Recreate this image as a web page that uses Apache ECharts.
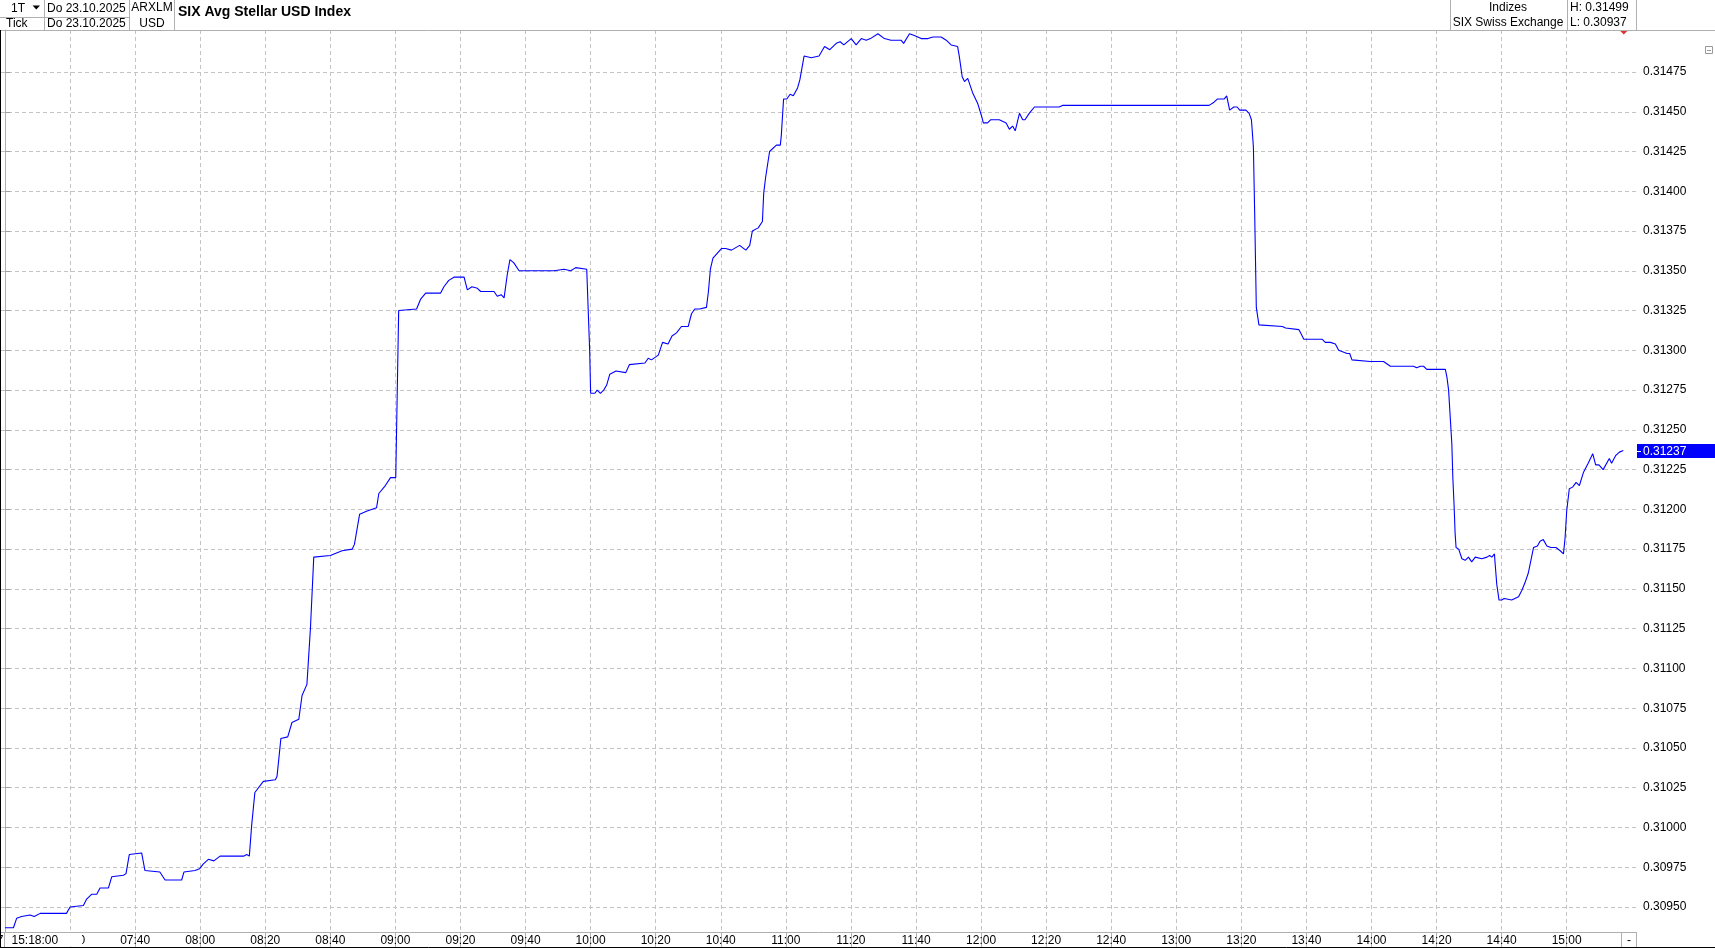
<!DOCTYPE html>
<html><head><meta charset="utf-8">
<script src="https://cdn.jsdelivr.net/npm/echarts@6/dist/echarts.min.js"></script>
<style>html,body{margin:0;padding:0;background:#fff}#c{width:1715px;height:948px}</style>
</head><body><div id="c"></div>
<script>
// ---- data (time = minutes after 07:00) ----
const tMin = [
  0,2.6,3.6,5.1,7.7,9.0,10.8,18.9,20.0,24.1,
  25.1,26.6,28.2,29.2,31.8,32.8,36.4,37.2,38.2,42.0,
  43.0,47.6,49.2,51.3,54.3,55.0,58.4,59.8,60.9,62.5,
  64.2,66.1,73.3,74.3,75.1,75.8,76.8,79.4,83.1,83.6,
  84.8,86.9,88.2,90.3,91.3,92.8,93.9,94.9,100.0,103.6,
  106.7,107.4,109.0,111.3,114.2,114.9,116.9,118.5,120.1,121.0,
  126.5,127.7,129.3,133.9,134.9,136.4,138.0,141.1,142.1,143.5,
  145.2,146.2,150.3,151.3,152.5,153.4,154.4,155.2,156.4,158.0,
  168.8,171.8,173.9,175.4,178.8,179.2,179.7,180.0,181.3,182.0,
  183.0,184.0,184.9,185.9,187.8,190.8,191.9,196.7,197.7,198.7,
  200.8,202.1,203.8,205.0,206.4,207.9,210.0,211.0,212.0,213.5,
  215.6,216.2,216.8,217.6,220.2,221.5,223.3,225.8,227.7,228.9,
  229.7,231.5,232.8,233.2,233.8,235.0,237.1,238.3,238.6,239.3,
  240.3,241.3,242.3,243.6,244.3,245.6,247.8,250.2,251.9,253.5,
  255.5,256.7,257.8,260.1,261.6,263.2,264.7,266.0,268.3,270.3,
  272.3,275.4,276.2,278.0,279.5,281.6,283.7,284.2,285.2,287.7,
  289.3,290.8,292.8,293.3,294.2,294.9,295.9,297.4,299.0,300.2,
  300.7,302.0,303.0,305.6,307.7,308.7,309.7,310.5,311.8,312.8,
  313.5,314.8,316.4,324.0,325.0,370.1,371.6,372.6,374.7,375.5,
  376.4,377.7,378.7,379.5,381.4,382.4,383.1,383.7,384.1,384.6,
  385.4,392.6,393.6,397.7,398.2,399.2,404.8,405.8,407.4,407.9,
  408.9,409.9,412.5,413.3,414.0,419.6,423.7,425.8,432.9,433.9,
  435.0,436.0,437.0,442.7,443.2,443.7,444.2,444.7,445.0,445.4,
  445.7,446.0,446.8,447.8,448.8,449.8,450.8,451.9,453.9,455.5,
  456.3,457.0,457.8,458.0,458.5,459.2,460.0,460.8,463.1,465.2,
  466.2,467.2,468.2,468.7,469.8,471.0,471.8,472.8,473.9,475.1,
  476.7,478.0,479.0,479.5,480.0,480.8,481.8,482.9,483.9,485.1,
  486.6,488.0,488.9,489.9,491.2,493.1,493.8,495.1,496.2,497.4
];
const price = [
  0.30937,0.30937,0.30943,0.30944,0.30945,0.30944,0.30946,0.30946,0.30950,0.30951,
  0.30955,0.30958,0.30958,0.30962,0.30962,0.30969,0.30970,0.30971,0.30983,0.30984,
  0.30973,0.30972,0.30967,0.30967,0.30967,0.30972,0.30973,0.30974,0.30977,0.30980,
  0.30979,0.30982,0.30982,0.30983,0.30982,0.31001,0.31022,0.31029,0.31030,0.31032,
  0.31056,0.31057,0.31066,0.31068,0.31083,0.31090,0.31126,0.31170,0.31171,0.31174,
  0.31175,0.31178,0.31197,0.31199,0.31201,0.31210,0.31215,0.31220,0.31220,0.31325,
  0.31326,0.31332,0.31336,0.31336,0.31340,0.31344,0.31346,0.31346,0.31338,0.31340,
  0.31339,0.31337,0.31337,0.31334,0.31335,0.31333,0.31348,0.31357,0.31355,0.31350,
  0.31350,0.31351,0.31350,0.31352,0.31351,0.31352,0.31300,0.31273,0.31273,0.31275,
  0.31273,0.31275,0.31278,0.31285,0.31287,0.31286,0.31291,0.31292,0.31295,0.31294,
  0.31297,0.31305,0.31304,0.31309,0.31311,0.31315,0.31315,0.31323,0.31326,0.31326,
  0.31327,0.31337,0.31351,0.31358,0.31364,0.31364,0.31363,0.31366,0.31363,0.31366,
  0.31375,0.31377,0.31381,0.31399,0.31409,0.31425,0.31429,0.31429,0.31435,0.31458,
  0.31458,0.31461,0.31460,0.31465,0.31470,0.31485,0.31484,0.31485,0.31491,0.31489,
  0.31493,0.31494,0.31492,0.31496,0.31492,0.31496,0.31495,0.31496,0.31499,0.31496,
  0.31495,0.31495,0.31493,0.31499,0.31498,0.31496,0.31496,0.31495,0.31497,0.31497,
  0.31495,0.31492,0.31491,0.31485,0.31472,0.31469,0.31471,0.31462,0.31455,0.31447,
  0.31443,0.31443,0.31445,0.31445,0.31443,0.31439,0.31441,0.31438,0.31449,0.31445,
  0.31445,0.31449,0.31453,0.31453,0.31454,0.31454,0.31456,0.31458,0.31458,0.31460,
  0.31451,0.31453,0.31453,0.31451,0.31451,0.31449,0.31445,0.31428,0.31386,0.31327,
  0.31316,0.31315,0.31314,0.31313,0.31311,0.31307,0.31307,0.31305,0.31305,0.31304,
  0.31304,0.31300,0.31298,0.31298,0.31294,0.31293,0.31293,0.31290,0.31290,0.31289,
  0.31290,0.31290,0.31288,0.31288,0.31283,0.31275,0.31258,0.31241,0.31220,0.31202,
  0.31185,0.31176,0.31175,0.31169,0.31168,0.31170,0.31167,0.31170,0.31169,0.31170,
  0.31171,0.31170,0.31172,0.31166,0.31153,0.31143,0.31143,0.31144,0.31143,0.31145,
  0.31149,0.31154,0.31160,0.31165,0.31176,0.31177,0.31180,0.31181,0.31177,0.31176,
  0.31176,0.31174,0.31172,0.31182,0.31199,0.31213,0.31214,0.31217,0.31215,0.31223,
  0.31229,0.31235,0.31228,0.31228,0.31225,0.31232,0.31229,0.31234,0.31236,0.31237
];
const xTickMinutes = [20,40,60,80,100,120,140,160,180,200,220,240,260,280,300,320,340,360,380,400,420,440,460,480];
const xTickLabels = ["07:20","07:40","08:00","08:20","08:40","09:00","09:20","09:40","10:00","10:20","10:40","11:00","11:20","11:40","12:00","12:20","12:40","13:00","13:20","13:40","14:00","14:20","14:40","15:00"];
const firstLabel = {minute:0, text:"07:00"};
const yTickValues = [0.3095,0.30975,0.31,0.31025,0.3105,0.31075,0.311,0.31125,0.3115,0.31175,0.312,0.31225,0.3125,0.31275,0.313,0.31325,0.3135,0.31375,0.314,0.31425,0.3145,0.31475];
const yTickLabels = ["0.30950","0.30975","0.31000","0.31025","0.31050","0.31075","0.31100","0.31125","0.31150","0.31175","0.31200","0.31225","0.31250","0.31275","0.31300","0.31325","0.31350","0.31375","0.31400","0.31425","0.31450","0.31475"];
const headerTexts = {period:"1T", mode:"Tick", date:"Do 23.10.2025", sym1:"ARXLM", sym2:"USD",
  title:"SIX Avg Stellar USD Index", group:"Indizes", exch:"SIX Swiss Exchange", cursorTime:"15:18:00"};

// ---- chart ----
const FONT = 'Arial, "Liberation Sans", sans-serif';
const GRID = '#c4c4c4', BORDER = '#b0b0b0';
const chart = echarts.init(document.getElementById('c'), null, {renderer:'canvas'});
const data = tMin.map((t,i)=>[t, price[i]]);
const hi = Math.max(...price), lo = Math.min(...price), last = price[price.length-1];

function txt(x,y,s,opt,z){
  return {type:'text', z:(z||50), style:Object.assign({x:x,y:y,text:s,fill:'#000',
    font:'12px '+FONT, textVerticalAlign:'middle', textAlign:'left'}, opt||{})};
}
function line(x1,y1,x2,y2,c,z){return {type:'line', z:(z||49), shape:{x1,y1,x2,y2}, style:{stroke:c||BORDER, lineWidth:1}};}

const graphics = [
  // header
  line(0,30.5,1715,30.5),
  line(0,17.5,129.5,17.5),
  line(44.5,0,44.5,30),
  line(129.5,0,129.5,30),
  line(174.5,0,174.5,30),
  line(1450.5,0,1450.5,30),
  line(1567.5,0,1567.5,30),
  line(1636.5,0,1636.5,30),
  txt(18,9,headerTexts.period,{textAlign:'center'}),
  {type:'polygon', z:50, shape:{points:[[32.5,5.5],[40,5.5],[36.25,9.5]]}, style:{fill:'#000'}},
  txt(6,24,headerTexts.mode),
  txt(47,9,headerTexts.date),
  txt(47,24,headerTexts.date),
  txt(152,8,headerTexts.sym1,{textAlign:'center'}),
  txt(152,24,headerTexts.sym2,{textAlign:'center'}),
  txt(178,12,headerTexts.title,{font:'bold 14px '+FONT}),
  txt(1508,8,headerTexts.group,{textAlign:'center'}),
  txt(1508,23,headerTexts.exch,{textAlign:'center'}),
  txt(1570,8,'H: '+hi.toFixed(5)),
  txt(1570,23,'L: '+lo.toFixed(5)),
  // small collapse icon
  {type:'rect', z:50, shape:{x:1705.5,y:46.5,width:7,height:7}, style:{fill:'#fff', stroke:'#999', lineWidth:1}},
  line(1707,50.5,1711,50.5,'#999',51),
  // outer frame left / bottom
  line(0.5,30,0.5,948,'#000',60),
  line(0,947.5,1715,947.5,'#000',60),
  // axis row decorations
  line(1636.5,932,1636.5,948),
  line(1621.5,932,1621.5,947),
  txt(1629,941,'-',{textAlign:'center'})
];

chart.setOption({
  animation:false,
  backgroundColor:'#fff',
  grid:{left:1, right:79, top:30, bottom:16, containLabel:false, outerBoundsMode:'none'},
  xAxis:{
    type:'value', min:-1.229, max:501.3,
    axisLine:{show:true, lineStyle:{color:BORDER}},
    axisTick:{show:true, customValues:xTickMinutes, length:16, lineStyle:{color:BORDER}},
    axisLabel:{customValues:xTickMinutes, margin:3, fontSize:12, color:'#000', fontFamily:FONT,
      hideOverlap:false, showMinLabel:true, showMaxLabel:true,
      formatter:v=>{const i=xTickMinutes.findIndex(m=>Math.abs(m-v)<0.01);return i<0?'':xTickLabels[i];}},
    splitLine:{show:true, lineStyle:{color:GRID, type:[4,3], width:1}}
  },
  yAxis:{
    type:'value', position:'right', min:0.309343, max:0.315014, scale:true,
    axisLine:{show:true, lineStyle:{color:BORDER}},
    axisTick:{show:true, customValues:yTickValues, length:5, lineStyle:{color:'#a0a0a0'}},
    axisLabel:{customValues:yTickValues, margin:7, fontSize:12, color:'#000', fontFamily:FONT,
      formatter:v=>{const i=yTickValues.findIndex(m=>Math.abs(m-v)<1e-7);return i<0?'':yTickLabels[i];}},
    splitLine:{show:true, lineStyle:{color:GRID, type:[4,3], width:1}}
  },
  series:[{type:'line', data:data, showSymbol:false, symbol:'none', lineStyle:{color:'#0000ff', width:1.1}, z:10}],
  graphic:graphics
});

// elements placed through the chart's own scales
const pLast = chart.convertToPixel({gridIndex:0}, [tMin[tMin.length-1], last]);
const p0 = chart.convertToPixel({gridIndex:0}, [firstLabel.minute, last]);
const axisY = 932;
const ty = Math.round(pLast[1]);
graphics.push(
  // partially hidden first time label + cursor time box
  txt(p0[0], 941, firstLabel.text, {textAlign:'center'}, 48),
  {type:'rect', z:50, shape:{x:p0[0]-1,y:933,width:78,height:13.5}, style:{fill:'#fff'}},
  line(p0[0]-0.5, axisY, p0[0]-0.5, 947, BORDER, 51),
  txt(p0[0]+6.5,941,headerTexts.cursorTime,{},52),
  // current price tag
  {type:'rect', z:52, shape:{x:1637, y:ty-7, width:78, height:14}, style:{fill:'#0000ff'}},
  line(1637,ty+0.5,1641,ty+0.5,'#fff',53),
  txt(1643,ty+0.5,last.toFixed(5),{fill:'#fff'},54),
  // last-point marker at top
  {type:'polygon', z:52, shape:{points:[[pLast[0]-3,31],[pLast[0]+4,31],[pLast[0]+0.5,34.5]]}, style:{fill:'#e03030'}}
);
chart.setOption({graphic:graphics}, {replaceMerge:['graphic']});
</script></body></html>
